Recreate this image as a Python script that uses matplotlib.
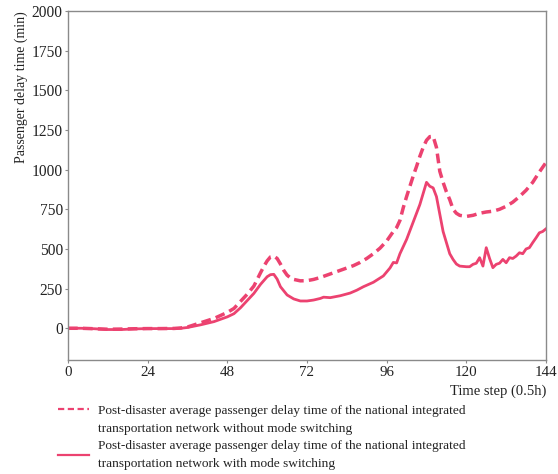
import matplotlib
matplotlib.use("Agg")
import matplotlib.pyplot as plt
import numpy as np
from matplotlib.legend_handler import HandlerLine2D

# ---- data ----
t_dash = [0, 4, 8, 12, 16, 20, 24, 28, 32, 34, 36, 40, 44, 48, 50, 52, 54, 56, 58, 59, 60, 61, 62, 63,
          64, 65, 66, 67, 68, 70, 72, 74, 76, 78, 80, 82, 84, 86, 88, 90, 92, 94, 96, 97, 98, 99, 100,
          101, 102, 103, 104, 105, 106, 107, 108, 109, 110, 111, 112, 113, 114, 115, 116, 117, 118,
          120, 122, 124, 126, 128, 130, 132, 134, 136, 138, 140, 142, 144]
v_dash = [0, 0, -3, -6, -5, -3, -2, -2, -1, 2, 8, 35, 62, 100, 125, 170, 215, 266, 350, 390, 425, 450, 455, 440,
          405, 365, 335, 318, 308, 299, 300, 308, 320, 335, 350, 365, 380, 395, 415, 440, 470, 505, 550, 580, 610, 635, 680,
          760, 830, 895, 960, 1020, 1084, 1140, 1185, 1208, 1210, 1140, 990, 920, 860, 811, 750, 725, 712,
          705, 712, 725, 733, 738, 750, 769, 795, 830, 870, 920, 985, 1045]

t_solid = [0, 4, 8, 12, 16, 20, 24, 28, 32, 34, 36, 40, 44, 48, 50, 52, 54, 56, 58, 60, 61, 62, 63, 64,
           66, 68, 70, 72, 74, 76, 77, 79, 82, 85, 87, 89, 92, 95, 97, 98, 99, 100, 102, 104, 106, 108,
           109, 110, 111, 112, 113, 114, 115, 116, 117, 118, 120, 121, 122, 123, 124, 125, 126, 127, 128,
           129, 130, 131, 132, 133, 134, 135, 136, 137, 138, 139, 140, 141, 142, 143, 144]
v_solid = [0, 0, -3, -8, -8, -4, -2, -2, -2, 0, 5, 22, 42, 72, 92, 130, 175, 220, 277, 325, 338, 340, 310, 262,
           210, 185, 172, 172, 178, 188, 196, 193, 205, 222, 240, 262, 290, 330, 380, 415, 412, 470, 560, 670, 780, 920,
           895, 885, 830, 720, 610, 540, 470, 434, 405, 392, 388, 388, 403, 410, 445, 392, 508, 440, 382,
           403, 410, 434, 413, 445, 440, 455, 476, 470, 500, 508, 540, 570, 602, 610, 627]

xticks = [0, 24, 48, 72, 96, 120, 144]
yticks = [0, 250, 500, 750, 1000, 1250, 1500, 1750, 2000]

label_dash = ("Post-disaster average passenger delay time of the national integrated\n"
              "transportation network without mode switching")
label_solid = ("Post-disaster average passenger delay time of the national integrated\n"
               "transportation network with mode switching")

color = "#EC4270"
text_color = "#222222"
spine_color = "#8a8a8a"

plt.rcParams['font.family'] = ['Liberation Serif', 'DejaVu Serif']

fig = plt.figure(figsize=(5.58, 4.74), dpi=100)
ax = fig.add_axes([68/558, 1-360/474, (546-68)/558, (360-11)/474])

l1, = ax.plot(t_dash, v_dash, color=color, lw=2.5, ls=(0, (2.8, 1.5)), label=label_dash)
l2, = ax.plot(t_solid, v_solid, color=color, lw=2.0, ls='-', label=label_solid)

ax.set_xlim(0, 144)
ax.set_ylim(-200, 2000)
ax.set_xticks(xticks)
ax.set_yticks(yticks)
ax.tick_params(axis='both', length=2.5, width=0.8, color=spine_color, colors=text_color)
ax.tick_params(axis='both', color=spine_color)
ax.tick_params(axis='x', labelsize=10.8, pad=1.5)
ax.tick_params(axis='y', labelsize=11.2, pad=1.2)
for s in ax.spines.values():
    s.set_color(spine_color)
    s.set_linewidth(1.0)

ax.set_ylabel("Passenger delay time (min)", fontsize=10, color=text_color, loc='top', labelpad=3)
ax.set_xlabel("Time step (0.5h)", fontsize=10.5, color=text_color, loc='right', labelpad=4)


class HandlerShift(HandlerLine2D):
    def __init__(self, dy=0, **kw):
        super().__init__(**kw)
        self.dy = dy

    def create_artists(self, legend, orig_handle, xdescent, ydescent, width, height, fontsize, trans):
        arts = super().create_artists(legend, orig_handle, xdescent, ydescent, width, height, fontsize, trans)
        for a in arts:
            a.set_ydata(np.asarray(a.get_ydata(), dtype=float) + self.dy)
        return arts


leg = fig.legend(handles=[l1, l2], loc='upper left', bbox_to_anchor=(58/558, 1-405/474),
                 frameon=False, fontsize=9.6, handlelength=2.33, handletextpad=0.68,
                 labelspacing=0.42, borderaxespad=0, borderpad=0,
                 handler_map={l1: HandlerShift(dy=7.5), l2: HandlerShift(dy=0)})
for txt in leg.get_texts():
    txt.set_linespacing(1.62)
    txt.set_color(text_color)
for h in leg.legend_handles:
    h.set_linewidth(1.6)
leg.legend_handles[0].set_linestyle((0, (2.8, 1.6)))

fig.savefig("out.png", dpi=100)
